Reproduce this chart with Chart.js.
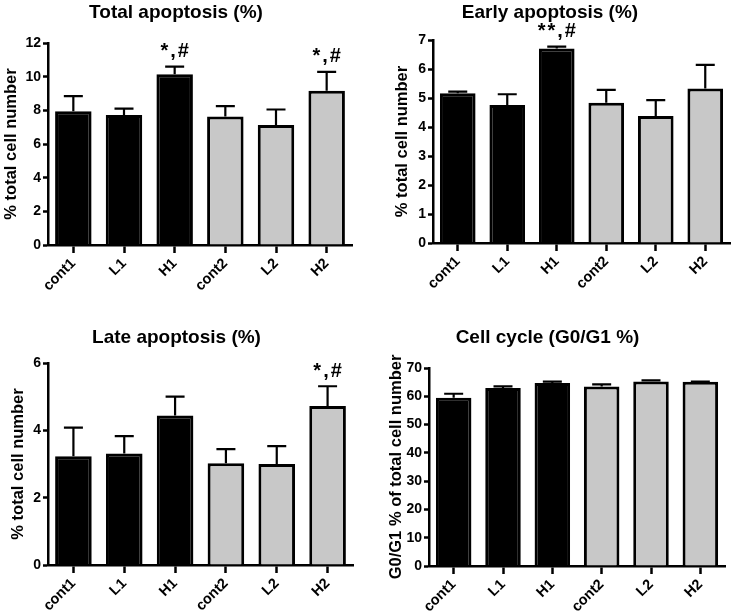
<!DOCTYPE html>
<html>
<head>
<meta charset="utf-8">
<script src="https://cdn.jsdelivr.net/npm/chart.js@4.4.1/dist/chart.umd.min.js"></script>
<style>
  html, body { margin: 0; padding: 0; background: #fff; }
  #wrap { position: relative; width: 740px; height: 616px; }
  canvas { position: absolute; }
</style>
</head>
<body>
<div id="wrap">
  <canvas id="c1" width="370" height="308" style="left:0;top:0"></canvas>
  <canvas id="c2" width="370" height="308" style="left:370px;top:0"></canvas>
  <canvas id="c3" width="370" height="308" style="left:0;top:308px"></canvas>
  <canvas id="c4" width="370" height="308" style="left:370px;top:308px"></canvas>
</div>
<script>
// ---- data ----
const categories = ['cont1', 'L1', 'H1', 'cont2', 'L2', 'H2'];

const totalMean = [7.95, 7.72, 10.15, 7.63, 7.13, 9.17];
const totalSem  = [0.90, 0.38, 0.45, 0.62, 0.92, 1.11];
const totalMarks = ['', '', '*,#', '', '', '*,#'];

const earlyMean = [5.16, 4.76, 6.71, 4.84, 4.38, 5.33];
const earlySem  = [0.06, 0.37, 0.06, 0.44, 0.55, 0.81];
const earlyMarks = ['', '', '**,#', '', '', ''];

const lateMean = [3.23, 3.31, 4.44, 3.02, 3.00, 4.72];
const lateSem  = [0.85, 0.52, 0.56, 0.42, 0.53, 0.59];
const lateMarks = ['', '', '', '', '', '*,#'];

const cycleMean = [59.5, 62.9, 64.7, 63.5, 65.2, 65.1];
const cycleSem  = [1.4, 0.6, 0.5, 0.7, 0.4, 0.1];
const cycleMarks = ['', '', '', '', '', ''];

const barColors = ['#000000', '#000000', '#000000', '#c8c8c8', '#c8c8c8', '#c8c8c8'];

// ---- styling ----
const FONT = "'Liberation Sans', Arial, Helvetica, sans-serif";
const TITLE_SIZE = 19;
const YTITLE_SIZE = 16.5;
Chart.defaults.color = '#000';
Chart.defaults.font.family = FONT;

const errorBars = {
  id: 'errs',
  afterDatasetsDraw(chart, args, opts) {
    const ctx = chart.ctx;
    const meta = chart.getDatasetMeta(0);
    const ys = chart.scales.y;
    const data = chart.data.datasets[0].data;
    meta.data.forEach((bar, i) => {
      const v = data[i];
      const e = opts.sem[i];
      const x = bar.x;
      const yBar = ys.getPixelForValue(v);
      const yTop = ys.getPixelForValue(v + e);
      ctx.save();
      ctx.strokeStyle = '#000';
      ctx.lineWidth = 2.2;
      ctx.beginPath();
      ctx.moveTo(x, yBar);
      ctx.lineTo(x, yTop);
      ctx.moveTo(x - 9.5, yTop);
      ctx.lineTo(x + 9.5, yTop);
      ctx.stroke();
      const m = opts.marks[i];
      if (m) {
        ctx.fillStyle = '#000';
        ctx.font = 'bold 20px ' + FONT;
        if ('letterSpacing' in ctx) ctx.letterSpacing = '2px';
        ctx.textAlign = 'center';
        ctx.textBaseline = 'middle';
        ctx.fillText(m, x + 1, yTop - 15);
      }
      ctx.restore();
    });
  }
};

function makeChart(id, title, yTitle, means, sems, marks, yMax, yStep, g) {
  const H = 308;
  const th = TITLE_SIZE * 0.6;
  new Chart(document.getElementById(id), {
    type: 'bar',
    data: {
      labels: categories,
      datasets: [{
        data: means,
        backgroundColor: barColors,
        borderColor: '#000',
        borderWidth: 3,
        barPercentage: 0.72,
        categoryPercentage: 1.0
      }]
    },
    options: {
      responsive: false,
      animation: false,
      layout: { padding: { left: 0, top: 0, right: 370 - g.right, bottom: 0 } },
      plugins: {
        legend: { display: false },
        tooltip: { enabled: false },
        title: {
          display: true,
          text: title,
          color: '#000',
          font: { size: TITLE_SIZE, weight: 'bold', family: FONT, lineHeight: 1.2 },
          padding: { top: g.titleY - th, bottom: g.top - g.titleY - th }
        },
        errs: { sem: sems, marks: marks }
      },
      scales: {
        x: {
          type: 'category',
          offset: true,
          afterFit: s => { s.height = H - g.bottom; },
          grid: { offset: false, drawOnChartArea: false, drawTicks: true, tickLength: 8, tickWidth: 2.5, color: '#000' },
          border: { display: true, color: '#000', width: 2.5 },
          ticks: { maxRotation: 45, minRotation: 45, padding: 2, color: '#000',
                   font: { size: 14.5, weight: 'bold', family: FONT } }
        },
        y: {
          min: 0,
          max: yMax,
          afterFit: s => { s.width = g.left; },
          grid: { drawOnChartArea: false, drawTicks: true, tickLength: 5, tickWidth: 2.5, color: '#000' },
          border: { display: true, color: '#000', width: 2.5 },
          ticks: { stepSize: yStep, padding: 2, color: '#000',
                   font: { size: 14, weight: 'bold', family: FONT } },
          title: {
            display: true,
            text: yTitle,
            color: '#000',
            font: { size: YTITLE_SIZE, weight: 'bold', family: FONT, lineHeight: 1.2 },
            padding: { top: g.yTitleX - YTITLE_SIZE * 0.6, bottom: 0 }
          }
        }
      }
    },
    plugins: [errorBars]
  });
}

makeChart('c1', 'Total apoptosis (%)', '% total cell number', totalMean, totalSem, totalMarks, 12, 2,
  { left: 48, top: 43, right: 352, bottom: 245, titleY: 13, yTitleX: 11 });
makeChart('c2', 'Early apoptosis (%)', '% total cell number', earlyMean, earlySem, earlyMarks, 7, 1,
  { left: 63, top: 40, right: 360, bottom: 243, titleY: 12.5, yTitleX: 32 });
makeChart('c3', 'Late apoptosis (%)', '% total cell number', lateMean, lateSem, lateMarks, 6, 2,
  { left: 48, top: 55, right: 353, bottom: 257, titleY: 30, yTitleX: 18 });
makeChart('c4', 'Cell cycle (G0/G1 %)', 'G0/G1 % of total cell number', cycleMean, cycleSem, cycleMarks, 70, 10,
  { left: 59, top: 60, right: 355, bottom: 258, titleY: 30, yTitleX: 26 });
</script>
</body>
</html>
